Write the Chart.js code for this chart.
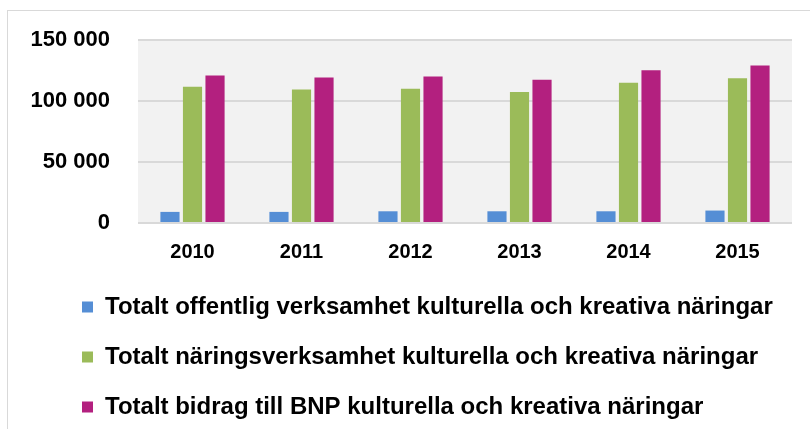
<!DOCTYPE html>
<html>
<head>
<meta charset="utf-8">
<script src="https://cdn.jsdelivr.net/npm/chart.js@4.4.1/dist/chart.umd.min.js"></script>
<style>
    html, body { margin: 0; padding: 0; background: #fff; overflow: hidden; }
    #frame {
        position: absolute; left: 7px; top: 10px;
        width: 803px; height: 418px;
        border-left: 1px solid #d9d9d9; border-top: 1px solid #d9d9d9;
    }
</style>
</head>
<body>
<div id="frame"><canvas id="chart"></canvas></div>
<script>
// Data
const years = ['2010', '2011', '2012', '2013', '2014', '2015'];
const offentlig = [9100, 9100, 9600, 9600, 9600, 10200];
const naringsverksamhet = [111700, 109500, 110100, 107300, 115000, 118600];
const bidragBnp = [120800, 119200, 120000, 117500, 125200, 129100];
const seriesLabels = [
    'Totalt offentlig verksamhet kulturella och kreativa näringar',
    'Totalt näringsverksamhet kulturella och kreativa näringar',
    'Totalt bidrag till BNP kulturella och kreativa näringar'
];
const seriesColors = ['#558ed5', '#9bbb59', '#b3207f'];

const fontFamily = '"Liberation Sans", Arial, sans-serif';

// grey plot background
const plotBackground = {
    id: 'plotBackground',
    beforeDraw(chart) {
        const { ctx, chartArea } = chart;
        ctx.save();
        ctx.fillStyle = '#f2f2f2';
        ctx.fillRect(chartArea.left, chartArea.top, chartArea.right - chartArea.left, chartArea.bottom - chartArea.top);
        ctx.restore();
    }
};

// push legend rows to the right a bit
const legendShift = {
    id: 'legendShift',
    afterLayout(chart) {
        const lg = chart.legend;
        if (lg) {
            lg.left += 26;
            lg.right += 26;
        }
    }
};

const datasets = [offentlig, naringsverksamhet, bidragBnp].map((values, i) => ({
    label: seriesLabels[i],
    data: values,
    backgroundColor: seriesColors[i],
    borderWidth: 0,
    barPercentage: 0.85,
    categoryPercentage: 0.62
}));

new Chart(document.getElementById('chart'), {
    type: 'bar',
    data: { labels: years, datasets: datasets },
    options: {
        responsive: true,
        maintainAspectRatio: false,
        animation: false,
        layout: { padding: { left: 22, right: 19, top: 29, bottom: 0 } },
        plugins: {
            tooltip: { enabled: false },
            legend: {
                position: 'bottom',
                align: 'start',
                labels: {
                    boxWidth: 11,
                    boxHeight: 11,
                    padding: 26,
                    color: '#000',
                    font: { family: fontFamily, size: 24, weight: 'bold' }
                }
            }
        },
        scales: {
            x: {
                grid: { display: false, drawTicks: false },
                border: { display: false },
                ticks: {
                    color: '#000',
                    padding: 17,
                    font: { family: fontFamily, size: 20, weight: 'bold' }
                },
                afterFit(scale) { scale.height = 46; }
            },
            y: {
                min: 0,
                max: 150000,
                grid: { color: '#d9d9d9', lineWidth: 2, drawTicks: false },
                border: { display: false },
                ticks: {
                    stepSize: 50000,
                    color: '#000',
                    padding: 28,
                    font: { family: fontFamily, size: 22, weight: 'bold' },
                    callback: v => v.toString().replace(/\B(?=(\d{3})+(?!\d))/g, ' ')
                },
                afterFit(scale) {
                    scale.width = 108;
                    scale.paddingTop = 0;
                    scale.paddingBottom = 0;
                }
            }
        }
    },
    plugins: [plotBackground, legendShift]
});
</script>
</body>
</html>
